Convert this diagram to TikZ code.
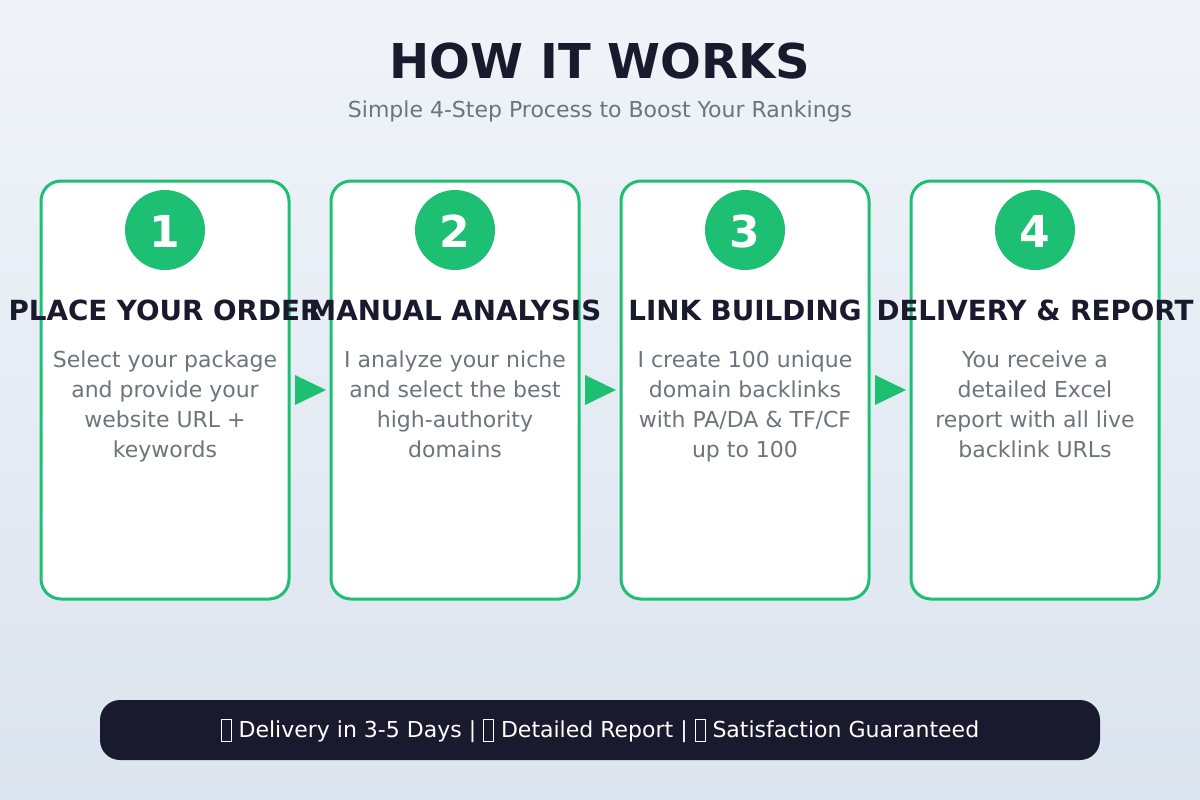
\documentclass[tikz,border=0pt]{standalone}
\usepackage{fontspec}
\setmainfont{DejaVu Sans}
\usetikzlibrary{shapes.geometric}
\definecolor{bgtop}{HTML}{F0F4F9}
\definecolor{bgbot}{HTML}{DCE4EF}
\definecolor{brand}{HTML}{1DBF73}
\definecolor{ink}{HTML}{1A1A2E}
\definecolor{muted}{HTML}{6C757D}
\newcommand\tofubox{{\fboxrule=0.6pt\fboxsep=0pt\raisebox{-0.2em}{\fbox{\rule{0.42em}{0pt}\rule{0pt}{1.0em}}}}}
\tikzset{
  card/.style={draw=brand, line width=2.25pt, fill=white, rounded corners=15pt},
  badge/.style={circle, fill=brand, draw=none, minimum size=60pt, inner sep=0pt},
  badgenum/.style={text=white, font=\fontsize{33}{33}\selectfont\bfseries, anchor=base, inner sep=0pt},
  steptitle/.style={text=ink, font=\fontsize{20.8}{20.8}\selectfont\bfseries, anchor=base, inner sep=0pt},
  stepdesc/.style={text=muted, font=\fontsize{16.5}{22.5}\selectfont, align=center, anchor=base, inner sep=0pt},
  flowarrow/.style={fill=brand, draw=none},
}
\begin{document}
\begin{tikzpicture}[x=0.75pt, y=-0.75pt]
\useasboundingbox (0,0) rectangle (1200,800);
\shade[top color=bgtop, bottom color=bgbot] (0,0) rectangle (1200,800);
\node[text=ink, font=\fontsize{36}{36}\selectfont\bfseries, anchor=base, inner sep=0pt] (title) at (600,78) {HOW IT WORKS};
\node[text=muted, font=\fontsize{16.5}{16.5}\selectfont, anchor=base, inner sep=0pt] (subtitle) at (600,117) {Simple 4-Step Process to Boost Your Rankings};
% cards
\foreach \i/\cx in {1/165,2/455,3/745,4/1035}{
  \draw[card] (\cx-124,181) rectangle (\cx+124,599);
  \node[badge] (b\i) at (\cx,230) {};
  \node[badgenum] (n\i) at (\cx,247) {\i};
}
\node[steptitle] (t1) at (165,320) {PLACE YOUR ORDER};
\node[steptitle] (t2) at (455,320) {MANUAL ANALYSIS};
\node[steptitle] (t3) at (745,320) {LINK BUILDING};
\node[steptitle] (t4) at (1035,320) {DELIVERY \& REPORT};
\node[stepdesc] (d1) at (165,457) {Select your package\\and provide your\\website URL +\\keywords};
\node[stepdesc] (d2) at (455,457) {I analyze your niche\\and select the best\\high-authority\\domains};
\node[stepdesc] (d3) at (745,457) {I create 100 unique\\domain backlinks\\with PA/DA \& TF/CF\\up to 100};
\node[stepdesc] (d4) at (1035,457) {You receive a\\detailed Excel\\report with all live\\backlink URLs};
% arrows
\foreach \ax in {295,585,875}{
  \fill[flowarrow] (\ax,375) -- (\ax+31,390) -- (\ax,405) -- cycle;
}
% bottom bar
\fill[ink, rounded corners=15pt] (100,700) rectangle (1100,760);
\node[text=white, font=\fontsize{16.5}{16.5}\selectfont, anchor=base, inner sep=0pt] (footer) at (600,737) {\tofubox\ Delivery in 3-5 Days | \tofubox\ Detailed Report | \tofubox\ Satisfaction Guaranteed};
\end{tikzpicture}
\end{document}
